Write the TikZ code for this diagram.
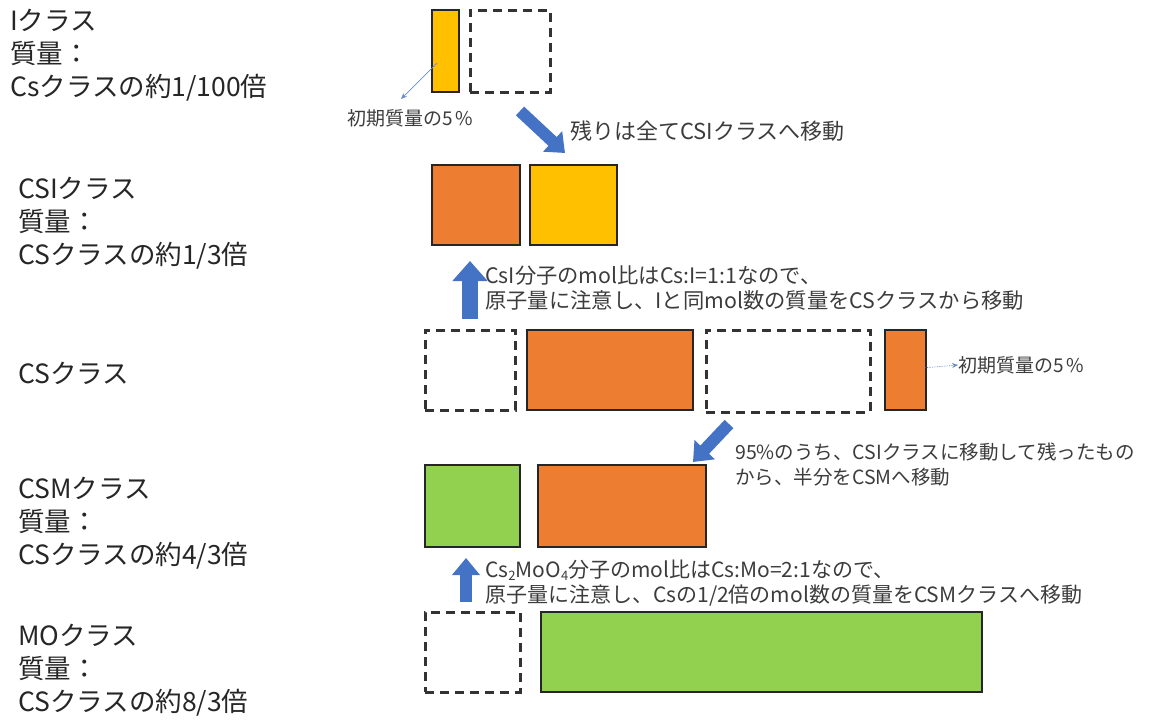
\documentclass[tikz,border=0pt]{standalone}
\usepackage{fontspec}
\setmainfont{Noto Sans CJK JP}
\usetikzlibrary{arrows.meta}
\definecolor{cOrange}{HTML}{ED7D31}
\definecolor{cYellow}{HTML}{FFC000}
\definecolor{cGreen}{HTML}{92D050}
\definecolor{cBlue}{HTML}{4472C4}
\definecolor{cText}{HTML}{262626}
\newcommand{\lowsub}[1]{\raisebox{-3pt}{\fontsize{13}{13}\selectfont #1}}
\tikzset{
  solidbox/.style={draw=black!85, line width=2.3pt, inner sep=0pt, outer sep=0pt},
  dashbox/.style={draw=black!80, line width=3pt, dash pattern=on 9pt off 6pt, inner sep=0pt, outer sep=0pt},
  classlabel/.style={anchor=west, align=left, font=\fontsize{26.5}{33}\selectfont, text=cText, inner sep=0pt},
  note/.style={anchor=west, align=left, font=\fontsize{21}{25}\selectfont, text=cText!90, inner sep=0pt},
  smallnote/.style={anchor=west, align=left, font=\fontsize{19}{22}\selectfont, text=cText!90, inner sep=0pt},
  bigarrow/.style={draw=cBlue, line width=16pt, -{Triangle[width=34pt,length=20pt]}},
  midarrow/.style={draw=cBlue, line width=12pt, -{Triangle[width=27pt,length=17pt]}},
  thinarrow/.style={draw=cBlue!80, line width=0.7pt, -{Stealth[length=6pt,width=5pt]}},
}
\begin{document}
\begin{tikzpicture}[x=1pt,y=-1pt]
\useasboundingbox (0,0) rectangle (1170,720);

% left labels
\node[classlabel] (lI) at (10,55) {Iクラス\\質量：\\Csクラスの約1/100倍};
\node[classlabel] (lCSI) at (18,223) {CSIクラス\\質量：\\CSクラスの約1/3倍};
\node[classlabel] (lCS) at (18,373) {CSクラス};
\node[classlabel] (lCSM) at (18,523) {CSMクラス\\質量：\\CSクラスの約4/3倍};
\node[classlabel] (lMO) at (18,670) {MOクラス\\質量：\\CSクラスの約8/3倍};

% I row
\node[solidbox, fill=cYellow, minimum width=27pt, minimum height=82pt] (Iy) at (445.5,51) {};
\node[dashbox, minimum width=80pt, minimum height=82pt] (Id) at (510,51) {};
\node[smallnote] (n5a) at (347,118) {初期質量の5\,\%};
\coordinate (p5a) at (437,63);
\coordinate (q5a) at (401,99);
\draw[thinarrow] (p5a) -- (q5a);

% arrow to CSI
\coordinate (a1s) at (520,111);
\coordinate (a1e) at (565,153);
\draw[midarrow] (a1s) -- (a1e);
\node[note, font=\fontsize{22}{25}\selectfont] (n1) at (570,131) {残りは全てCSIクラスへ移動};

% CSI row
\node[solidbox, fill=cOrange, minimum width=88pt, minimum height=80pt] (CSIo) at (476,205) {};
\node[solidbox, fill=cYellow, minimum width=87pt, minimum height=80pt] (CSIy) at (573.5,205) {};

% up arrow CS -> CSI
\coordinate (a2s) at (470,319);
\coordinate (a2e) at (470,261);
\draw[bigarrow] (a2s) -- (a2e);
\node[note, font=\fontsize{21.3}{25}\selectfont] (n2) at (485,288) {CsI分子のmol比はCs:I=1:1なので、\\原子量に注意し、Iと同mol数の質量をCSクラスから移動};

% CS row
\node[dashbox, minimum width=90pt, minimum height=80pt] (CSd1) at (470,370) {};
\node[solidbox, fill=cOrange, minimum width=166pt, minimum height=80pt] (CSo) at (610,370) {};
\node[dashbox, minimum width=164pt, minimum height=82pt] (CSd2) at (788,371) {};
\node[solidbox, fill=cOrange, minimum width=41pt, minimum height=80pt] (CSs) at (905.5,370) {};
\node[smallnote] (n5b) at (958,365) {初期質量の5\,\%};
\coordinate (p5b) at (922,368);
\draw[thinarrow, densely dotted] (p5b) -- (n5b.west);

% arrow CS -> CSM
\coordinate (a3s) at (729,424);
\coordinate (a3e) at (693,462);
\draw[midarrow] (a3s) -- (a3e);
\node[note, font=\fontsize{19.5}{25}\selectfont] (n3) at (735,465) {95\%のうち、CSIクラスに移動して残ったもの\\から、半分をCSMへ移動};

% CSM row
\node[solidbox, fill=cGreen, minimum width=95pt, minimum height=82pt] (CSMg) at (472.5,506) {};
\node[solidbox, fill=cOrange, minimum width=168pt, minimum height=82pt] (CSMo) at (622,506) {};

% up arrow MO -> CSM
\coordinate (a4s) at (466,602);
\coordinate (a4e) at (466,558);
\draw[midarrow] (a4s) -- (a4e);
\node[note] (n4) at (485,583) {Cs\lowsub{2}MoO\lowsub{4}分子のmol比はCs:Mo=2:1なので、\\原子量に注意し、Csの1/2倍のmol数の質量をCSMクラスへ移動};

% MO row
\node[dashbox, minimum width=95pt, minimum height=80pt] (MOd) at (472.5,652) {};
\node[solidbox, fill=cGreen, minimum width=441pt, minimum height=80pt] (MOg) at (761.5,652) {};
\end{tikzpicture}
\end{document}
